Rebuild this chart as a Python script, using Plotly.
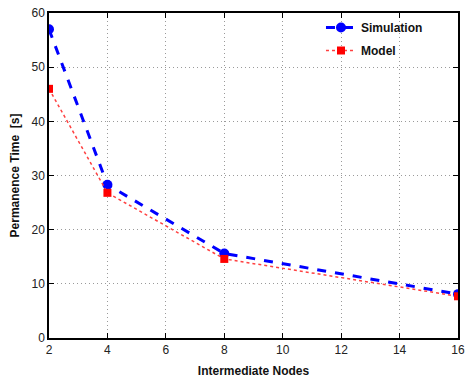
import plotly.graph_objects as go

nodes = [2, 4, 8, 16]
simulation = [57.0, 28.3, 15.6, 8.1]
model = [46.0, 26.8, 14.6, 7.7]
x_ticks = [2, 4, 6, 8, 10, 12, 14, 16]
y_ticks = [0, 10, 20, 30, 40, 50, 60]

fig = go.Figure()
fig.add_trace(go.Scatter(
    x=nodes, y=simulation, name="Simulation", mode="lines+markers",
    legendgroup="sim",
    line=dict(color="#0000ff", width=3, dash="dash"),
    marker=dict(symbol="circle", size=10, color="#0000ff"),
))
fig.add_trace(go.Scatter(
    x=nodes, y=model, name="Model", mode="lines+markers",
    legendgroup="mod",
    line=dict(color="#ff4040", width=1.5, dash="dot"),
    marker=dict(symbol="square", size=8, color="#ff0000"),
))

axis_common = dict(
    showline=True, linecolor="black", linewidth=1.5, mirror="ticks",
    ticks="inside", ticklen=5, tickcolor="black", tickwidth=1,
    showgrid=True, gridcolor="#9a9a9a", griddash="1px,3px", gridwidth=1,
    zeroline=False, tickfont=dict(size=12, color="#222222"),
)

fig.update_xaxes(
    range=[2, 16], tickvals=x_ticks,
    title=dict(text="<b>Intermediate Nodes</b>", font=dict(size=12, color="#111111"), standoff=10),
    **axis_common,
)
fig.update_yaxes(
    range=[0, 60], tickvals=y_ticks,
    title=dict(text="<b>Permanence Time  [s]</b>", font=dict(size=12, color="#111111"), standoff=9),
    **axis_common,
)

fig.update_layout(
    width=470, height=381,
    margin=dict(l=49, r=5, t=13, b=40),
    paper_bgcolor="white", plot_bgcolor="white",
    font=dict(family="Liberation Sans, Arial, sans-serif", color="#111111"),
    showlegend=True,
    legend=dict(
        x=0.665, y=1.0, xanchor="left", yanchor="top",
        bgcolor="rgba(0,0,0,0)", borderwidth=0,
        font=dict(size=12, color="#111111", weight="bold"),
        tracegroupgap=4,
    ),
)

fig.write_html(
    "out.html",
    config={"displayModeBar": False},
    post_script="document.body.style.margin='0';document.body.style.overflow='hidden';",
)
